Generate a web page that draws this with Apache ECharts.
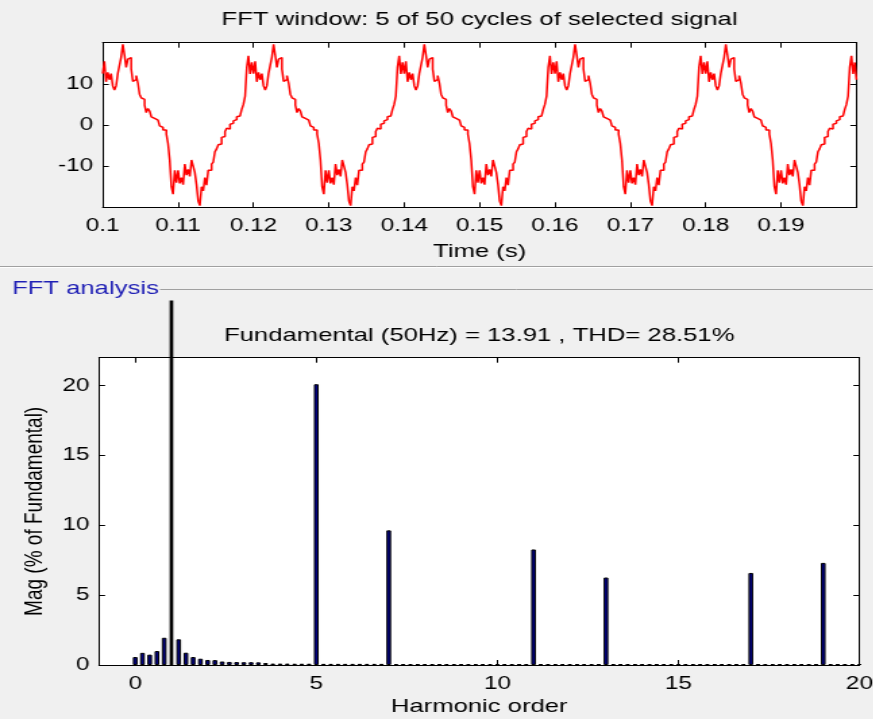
<!DOCTYPE html>
<html>
<head>
<meta charset="utf-8">
<script src="https://cdn.jsdelivr.net/npm/echarts@6/dist/echarts.min.js"></script>
<style>
html, body { margin: 0; padding: 0; background: #f0f0f0; overflow: hidden; }
#chart { height: 719px; transform-origin: 0 0; }
</style>
</head>
<body>
<div id="chart"></div>
<script>
// the screenshot is stretched sideways, so draw narrow and scale in x
const SX = 1.35;

// top plot: selected signal, 5 cycles (0.1 .. 0.2 s)
const timeStart = 0.1;
const timeStep = 0.02 / 90;
const signal = [
  12.5, 15.5, 10.5, 12.8, 11, 12.5, 9.5, 8.5, 9.5, 12.5,
  14.5, 16.5, 19.6, 17, 14, 16, 16.4, 13.6, 10.6, 11,
  12, 10.2, 7.5, 6.6, 6.2, 4.8, 3, 4, 3.4, 2,
  1.6, 1.8, 1.2, 1.2, -0.2, -0.6, -1.2, -1.2, -2.2, -4.5,
  -8.5, -15, -16.8, -11, -14, -11, -14.2, -12.8, -14.5, -9.5,
  -12.2, -10.8, -12.5, -8.5, -10, -11.5, -14.5, -18.5, -19.6, -15,
  -16, -12.8, -14.6, -11, -11, -9.5, -9, -6.5, -5.8, -4.8,
  -4.6, -3, -2.8, -1.6, -0.8, -1, 0.2, 0.4, 1, 1.3,
  2, 2.2, 2.4, 3.8, 5, 7, 14, 16.8, 12.4, 15.2,

  12.5, 15.5, 10.5, 12.8, 11, 12.5, 9.5, 8.5, 9.5, 12.5,
  14.5, 16.5, 19.6, 17, 14, 16, 16.4, 13.6, 10.6, 11,
  12, 10.2, 7.5, 6.6, 6.2, 4.8, 3, 4, 3.4, 2,
  1.6, 1.8, 1.2, 1.2, -0.2, -0.6, -1.2, -1.2, -2.2, -4.5,
  -8.5, -15, -16.8, -11, -14, -11, -14.2, -12.8, -14.5, -9.5,
  -12.2, -10.8, -12.5, -8.5, -10, -11.5, -14.5, -18.5, -19.6, -15,
  -16, -12.8, -14.6, -11, -11, -9.5, -9, -6.5, -5.8, -4.8,
  -4.6, -3, -2.8, -1.6, -0.8, -1, 0.2, 0.4, 1, 1.3,
  2, 2.2, 2.4, 3.8, 5, 7, 14, 16.8, 12.4, 15.2,

  12.5, 15.5, 10.5, 12.8, 11, 12.5, 9.5, 8.5, 9.5, 12.5,
  14.5, 16.5, 19.6, 17, 14, 16, 16.4, 13.6, 10.6, 11,
  12, 10.2, 7.5, 6.6, 6.2, 4.8, 3, 4, 3.4, 2,
  1.6, 1.8, 1.2, 1.2, -0.2, -0.6, -1.2, -1.2, -2.2, -4.5,
  -8.5, -15, -16.8, -11, -14, -11, -14.2, -12.8, -14.5, -9.5,
  -12.2, -10.8, -12.5, -8.5, -10, -11.5, -14.5, -18.5, -19.6, -15,
  -16, -12.8, -14.6, -11, -11, -9.5, -9, -6.5, -5.8, -4.8,
  -4.6, -3, -2.8, -1.6, -0.8, -1, 0.2, 0.4, 1, 1.3,
  2, 2.2, 2.4, 3.8, 5, 7, 14, 16.8, 12.4, 15.2,

  12.5, 15.5, 10.5, 12.8, 11, 12.5, 9.5, 8.5, 9.5, 12.5,
  14.5, 16.5, 19.6, 17, 14, 16, 16.4, 13.6, 10.6, 11,
  12, 10.2, 7.5, 6.6, 6.2, 4.8, 3, 4, 3.4, 2,
  1.6, 1.8, 1.2, 1.2, -0.2, -0.6, -1.2, -1.2, -2.2, -4.5,
  -8.5, -15, -16.8, -11, -14, -11, -14.2, -12.8, -14.5, -9.5,
  -12.2, -10.8, -12.5, -8.5, -10, -11.5, -14.5, -18.5, -19.6, -15,
  -16, -12.8, -14.6, -11, -11, -9.5, -9, -6.5, -5.8, -4.8,
  -4.6, -3, -2.8, -1.6, -0.8, -1, 0.2, 0.4, 1, 1.3,
  2, 2.2, 2.4, 3.8, 5, 7, 14, 16.8, 12.4, 15.2,

  12.5, 15.5, 10.5, 12.8, 11, 12.5, 9.5, 8.5, 9.5, 12.5,
  14.5, 16.5, 19.6, 17, 14, 16, 16.4, 13.6, 10.6, 11,
  12, 10.2, 7.5, 6.6, 6.2, 4.8, 3, 4, 3.4, 2,
  1.6, 1.8, 1.2, 1.2, -0.2, -0.6, -1.2, -1.2, -2.2, -4.5,
  -8.5, -15, -16.8, -11, -14, -11, -14.2, -12.8, -14.5, -9.5,
  -12.2, -10.8, -12.5, -8.5, -10, -11.5, -14.5, -18.5, -19.6, -15,
  -16, -12.8, -14.6, -11, -11, -9.5, -9, -6.5, -5.8, -4.8,
  -4.6, -3, -2.8, -1.6, -0.8, -1, 0.2, 0.4, 1, 1.3,
  2, 2.2, 2.4, 3.8, 5, 7, 14, 16.8, 12.4, 15.2,
  11
];

// bottom plot: harmonic spectrum, bins of 0.2 harmonic order from 0 to 20
const binStep = 0.2;
const magnitudes = [
  0.57, 0.87, 0.74, 1.0, 1.95, null, 1.84, 0.88, 0.57, 0.45,
  0.36, 0.35, 0.25, 0.22, 0.21, 0.2, 0.2, 0.19, 0.14, 0.1,
  0.1, 0.1, 0.09, 0.09, 0.09, 20.1, 0.08, 0.08, 0.08, 0.08,
  0.08, 0.08, 0.08, 0.08, 0.08, 9.64, 0.07, 0.07, 0.07, 0.07,
  0.07, 0.07, 0.07, 0.07, 0.07, 0.07, 0.07, 0.07, 0.07, 0.07,
  0.07, 0.07, 0.07, 0.07, 0.07, 8.27, 0.07, 0.07, 0.07, 0.07,
  0.07, 0.07, 0.07, 0.07, 0.07, 6.26, 0.07, 0.07, 0.07, 0.07,
  0.07, 0.07, 0.07, 0.07, 0.07, 0.07, 0.07, 0.07, 0.07, 0.07,
  0.07, 0.07, 0.07, 0.07, 0.07, 6.59, 0.07, 0.07, 0.07, 0.07,
  0.07, 0.07, 0.07, 0.07, 0.07, 7.31, 0.07, 0.07, 0.07, 0.07,
  0.07
];
// fundamental bar as it shows on screen (runs past the top of the axes)
const fundamental = [[1, 26.1]];

const topTitle = 'FFT window: 5 of 50 cycles of selected signal';
const bottomTitle = 'Fundamental (50Hz) = 13.91 , THD= 28.51%';

const chartDom = document.getElementById('chart');
chartDom.style.width = (873 / SX) + 'px';
chartDom.style.transform = 'scaleX(' + SX + ')';
const myChart = echarts.init(chartDom);

const font = 'Liberation Sans';
const labelStyle = { color: '#000', fontSize: 18, fontFamily: font };
const nameStyle = { color: '#000', fontSize: 19, fontFamily: font };
const boxLine = () => ({ show: true, onZero: false, lineStyle: { color: '#000', width: 1 } });
const tickIn = () => ({ show: true, inside: true, length: 5, lineStyle: { color: '#000', width: 1 } });
const tickInY = () => ({ show: true, inside: true, length: 4.5, lineStyle: { color: '#000', width: 1 } });

const signalPoints = signal.map((v, i) => [timeStart + i * timeStep, v]);
const barPoints = magnitudes.map((v, i) => [+(i * binStep).toFixed(1), v]);

const option = {
  animation: false,
  backgroundColor: '#f0f0f0',
  grid: [
    { left: 102.7 / SX, right: 17 / SX, top: 42.7, height: 164.6, show: true,
      backgroundColor: '#fff', borderWidth: 0,
      containLabel: false, outerBoundsMode: 'none' },
    { left: 99 / SX, right: 14 / SX, top: 357.7, height: 307.3, show: true,
      backgroundColor: '#fff', borderWidth: 0,
      containLabel: false, outerBoundsMode: 'none' }
  ],
  xAxis: [
    { gridIndex: 0, type: 'value', min: 0.1, max: 0.2, interval: 0.01, position: 'bottom',
      axisLine: boxLine(), axisTick: tickIn(), splitLine: { show: false },
      axisLabel: Object.assign({ margin: 10, showMaxLabel: false }, labelStyle),
      name: 'Time (s)', nameLocation: 'middle', nameGap: 35, nameTextStyle: nameStyle },
    { gridIndex: 0, type: 'value', min: 0.1, max: 0.2, interval: 0.01, position: 'top',
      axisLine: boxLine(), axisTick: tickIn(), splitLine: { show: false },
      axisLabel: { show: false },
      name: topTitle, nameLocation: 'middle', nameGap: 13, nameTextStyle: nameStyle },
    { gridIndex: 1, type: 'value', min: -1, max: 20, splitNumber: 5, position: 'bottom',
      axisLine: boxLine(), axisTick: tickIn(), splitLine: { show: false },
      axisLabel: Object.assign({ margin: 10, showMinLabel: false }, labelStyle),
      name: 'Harmonic order', nameLocation: 'middle', nameGap: 32, nameTextStyle: nameStyle },
    { gridIndex: 1, type: 'value', min: -1, max: 20, splitNumber: 5, position: 'top',
      axisLine: boxLine(), axisTick: tickIn(), splitLine: { show: false },
      axisLabel: { show: false },
      name: bottomTitle, nameLocation: 'middle', nameGap: 12, nameTextStyle: nameStyle }
  ],
  yAxis: [
    { gridIndex: 0, type: 'value', min: -20, max: 20, interval: 10, position: 'left',
      axisLine: boxLine(), axisTick: tickInY(), splitLine: { show: false },
      axisLabel: Object.assign({ margin: 7, showMinLabel: false, showMaxLabel: false }, labelStyle) },
    { gridIndex: 0, type: 'value', min: -20, max: 20, interval: 10, position: 'right',
      axisLine: boxLine(), axisTick: tickInY(), splitLine: { show: false },
      axisLabel: { show: false } },
    { gridIndex: 1, type: 'value', min: 0, max: 22, interval: 5, position: 'left',
      axisLine: boxLine(), axisTick: tickInY(), splitLine: { show: false },
      axisLabel: Object.assign({ margin: 7, showMaxLabel: false }, labelStyle),
      name: 'Mag (% of Fundamental)', nameLocation: 'middle', nameGap: 37, nameTextStyle: nameStyle },
    { gridIndex: 1, type: 'value', min: 0, max: 22, interval: 5, position: 'right',
      axisLine: boxLine(), axisTick: tickInY(), splitLine: { show: false },
      axisLabel: { show: false } }
  ],
  graphic: [
    { type: 'line', shape: { x1: 0, y1: 266.5, x2: 873 / SX, y2: 266.5 },
      style: { stroke: '#a0a0a0', lineWidth: 1 } },
    { type: 'line', shape: { x1: 0, y1: 267.5, x2: 873 / SX, y2: 267.5 },
      style: { stroke: '#ffffff', lineWidth: 1 } },
    { type: 'line', shape: { x1: 160 / SX, y1: 289.5, x2: 873 / SX, y2: 289.5 },
      style: { stroke: '#a0a0a0', lineWidth: 1 } },
    { type: 'text', left: 12 / SX, top: 279,
      style: { text: 'FFT analysis', fill: '#1f1fb5', fontSize: 19, fontFamily: font } }
  ],
  series: [
    {
      type: 'line', xAxisIndex: 0, yAxisIndex: 0,
      data: signalPoints, showSymbol: false, step: 'end',
      lineStyle: { color: '#ff0000', width: 1.5 }
    },
    {
      type: 'bar', xAxisIndex: 2, yAxisIndex: 2,
      data: barPoints, barWidth: 3.5,
      itemStyle: { color: '#000080', borderColor: '#000', borderWidth: 1 }
    },
    {
      type: 'bar', xAxisIndex: 3, yAxisIndex: 2,
      data: fundamental, barWidth: 2.7, clip: false,
      itemStyle: { color: '#000' }
    }
  ]
};

myChart.setOption(option);
</script>
</body>
</html>
